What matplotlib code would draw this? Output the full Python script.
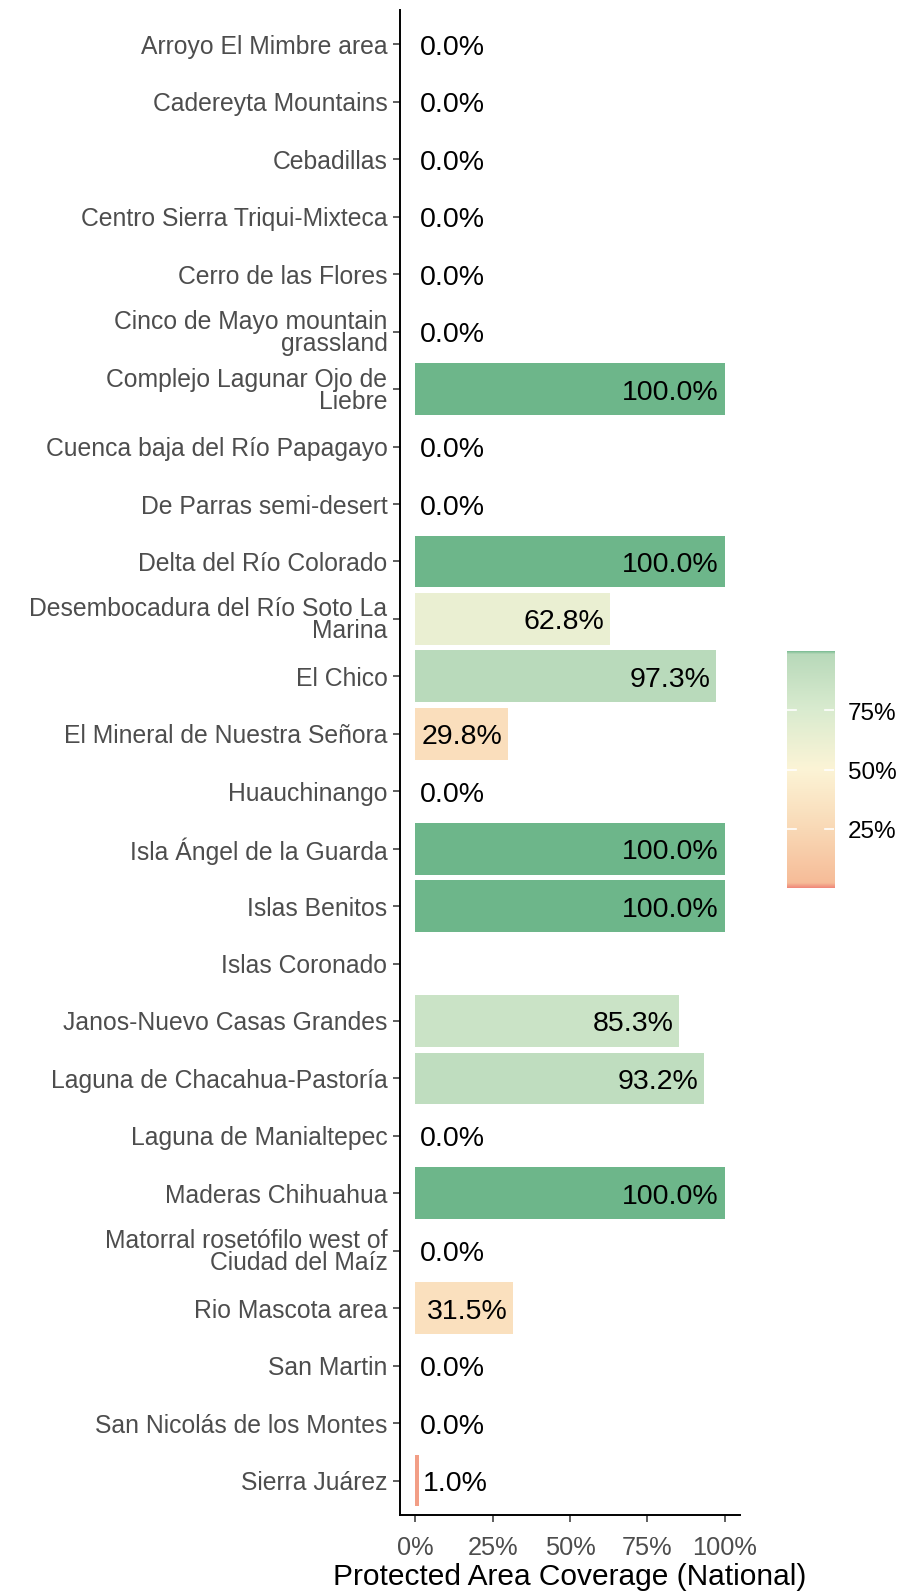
import numpy as np
import matplotlib
matplotlib.use('Agg')
import matplotlib.pyplot as plt
import matplotlib.transforms as mtransforms
from matplotlib.colors import LinearSegmentedColormap, Normalize

plt.rcParams['font.family'] = ['Liberation Sans', 'DejaVu Sans']

# Sites (top to bottom) and protected area coverage in percent
sites = [
    'Arroyo El Mimbre area', 'Cadereyta Mountains', 'Cebadillas',
    'Centro Sierra Triqui-Mixteca', 'Cerro de las Flores',
    'Cinco de Mayo mountain\ngrassland', 'Complejo Lagunar Ojo de\nLiebre',
    'Cuenca baja del Río Papagayo', 'De Parras semi-desert',
    'Delta del Río Colorado', 'Desembocadura del Río Soto La\nMarina',
    'El Chico', 'El Mineral de Nuestra Señora', 'Huauchinango',
    'Isla Ángel de la Guarda', 'Islas Benitos', 'Islas Coronado',
    'Janos-Nuevo Casas Grandes', 'Laguna de Chacahua-Pastoría',
    'Laguna de Manialtepec', 'Maderas Chihuahua',
    'Matorral rosetófilo west of\nCiudad del Maíz', 'Rio Mascota area',
    'San Martin', 'San Nicolás de los Montes', 'Sierra Juárez',
]
coverage = [0, 0, 0, 0, 0, 0, 100, 0, 0, 100, 62.8, 97.3, 29.8, 0,
            100, 100, np.nan, 85.3, 93.2, 0, 100, 0, 31.5, 0, 0, 1.0]

# colour scale for the fill
cmap = LinearSegmentedColormap.from_list('cov', [
    (0.0, '#F08A7A'), (0.02, '#F6BC98'), (0.25, '#F9D9B6'),
    (0.5, '#FCF4D6'), (0.75, '#D9EBCF'), (0.985, '#B8D9BA'), (1.0, '#6DB68A')])
norm = Normalize(0, 1)

vals = np.array(coverage) / 100.0
n = len(sites)
ypos = np.arange(n)

fig = plt.figure(figsize=(9.03, 15.94), dpi=100)
ax = fig.add_axes([400 / 903, 1 - 1515 / 1594, 340 / 903, 1505 / 1594])

# small downward shift so text sits like the reference
down = mtransforms.ScaledTranslation(0, -3.5 / 100, fig.dpi_scale_trans)

for y, v in zip(ypos, vals):
    if np.isnan(v):
        continue
    ax.barh(y, v, height=0.9, color=cmap(norm(v)), linewidth=0)
    label = f'{v * 100:.1f}%'
    if v < 0.05:
        ax.text(v + 0.013, y, label, ha='left', va='center', fontsize=20.5,
                color='black', transform=ax.transData + down)
    else:
        ax.text(v - 0.018, y, label, ha='right', va='center', fontsize=20.5,
                color='black', transform=ax.transData + down)

ax.set_ylim(n - 1 + 0.6, -0.6)
ax.set_xlim(-0.05, 1.05)
ax.set_yticks(ypos)
ax.set_yticklabels(sites, fontsize=17.8, color='#4D4D4D', linespacing=0.9)
for lab in ax.get_yticklabels():
    lab.set_transform(lab.get_transform() + down)
ax.set_xticks([0, 0.25, 0.5, 0.75, 1.0])
ax.set_xticklabels(['0%', '25%', '50%', '75%', '100%'], fontsize=18.3, color='#4D4D4D')
ax.set_xlabel('Protected Area Coverage (National)', fontsize=21.5, labelpad=2)
ax.tick_params(axis='both', length=5, width=1.1, color='#333333')
ax.tick_params(axis='y', pad=4)
ax.tick_params(axis='x', pad=10)
for s in ['top', 'right']:
    ax.spines[s].set_visible(False)
for s in ['left', 'bottom']:
    ax.spines[s].set_linewidth(1.4)

# colourbar legend
cax = fig.add_axes([787 / 903, 1 - 888 / 1594, 47 / 903, 237 / 1594])
grad = np.linspace(0, 1, 256).reshape(-1, 1)
cax.imshow(grad, aspect='auto', cmap=cmap, norm=norm, origin='lower', extent=[0, 1, 0, 1])
for t in [0.25, 0.5, 0.75]:
    cax.plot([0, 0.2], [t, t], color='white', lw=1.2)
    cax.plot([0.8, 1], [t, t], color='white', lw=1.2)
    cax.text(1.3, t, f'{int(t * 100)}%', ha='left', va='center', fontsize=17.5,
             color='black', transform=cax.transAxes + down)
cax.set_xlim(0, 1)
cax.set_ylim(0, 1)
cax.axis('off')

fig.savefig('out.png', dpi=100)
